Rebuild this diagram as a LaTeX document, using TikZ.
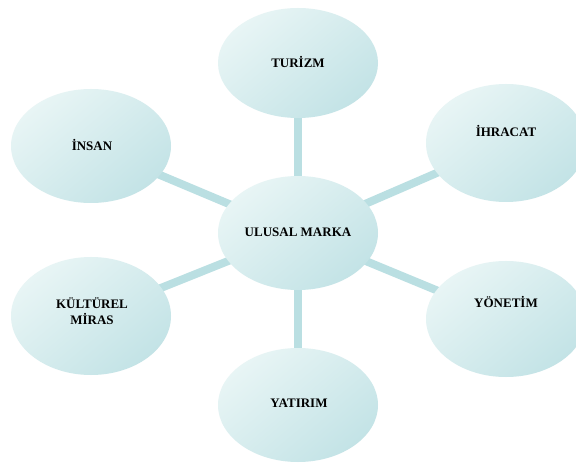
\documentclass[tikz,border=0pt]{standalone}
\usepackage{fontspec}
\setmainfont{Liberation Serif}
\usetikzlibrary{shapes.geometric,calc}
\definecolor{elight}{HTML}{E8F5F5}
\definecolor{emid}{HTML}{DDEFF1}
\definecolor{edark}{HTML}{C3E3E6}
\definecolor{linec}{HTML}{BADFE2}
\tikzset{
  bubble/.style={ellipse, minimum width=160pt, minimum height=114pt, inner sep=0pt,
    top color=elight, middle color=emid, bottom color=edark, shading angle=40, draw=none},
  lbl/.style={font=\bfseries\fontsize{13}{16}\selectfont, align=center, text=black},
  conn/.style={line width=8pt, draw=linec}
}
\begin{document}
\begin{tikzpicture}[x=1pt,y=-1pt]
\useasboundingbox (0,0) rectangle (576,465);
\clip (0,0) rectangle (576,465);
\fill[white] (0,0) rectangle (576,465);
% coordinates for centers
\coordinate (cc) at (298,233);
\coordinate (ct) at (298,63);
\coordinate (cb) at (298,405);
\coordinate (cil) at (91,146);
\coordinate (ckl) at (91,316);
\coordinate (cih) at (506,143);
\coordinate (cyo) at (506,319);
% connectors
\draw[conn] (cc) -- (ct);
\draw[conn] (cc) -- (cb);
\draw[conn] (cc) -- (cil);
\draw[conn] (cc) -- (ckl);
\draw[conn] (cc) -- (cih);
\draw[conn] (cc) -- (cyo);
% bubbles
\node[bubble, minimum height=110pt] (tur) at (ct) {};
\node[bubble] (ulu) at (cc) {};
\node[bubble] (yat) at (cb) {};
\node[bubble] (ins) at (cil) {};
\node[bubble, minimum height=118pt] (kul) at (ckl) {};
\node[bubble, minimum height=118pt] (ihr) at (cih) {};
\node[bubble, minimum height=116pt] (yon) at (cyo) {};
% texts
\node[lbl] (tturizm) at ($(tur.center)+(0,-1)$) {TURİZM};
\node[lbl] (tulusal) at ($(ulu.center)+(0,-1)$) {ULUSAL MARKA};
\node[lbl] (tyatirim) at ($(yat.center)+(1,-2)$) {YATIRIM};
\node[lbl] (tinsan) at ($(ins.center)+(1,-1)$) {İNSAN};
\node[lbl] (tkultur) at ($(kul.center)+(1,-5)$) {KÜLTÜREL\\MİRAS};
\node[lbl] (tihracat) at ($(ihr.center)+(0,-12)$) {İHRACAT};
\node[lbl] (tyonetim) at ($(yon.center)+(0,-17)$) {YÖNETİM};
\end{tikzpicture}
\end{document}
